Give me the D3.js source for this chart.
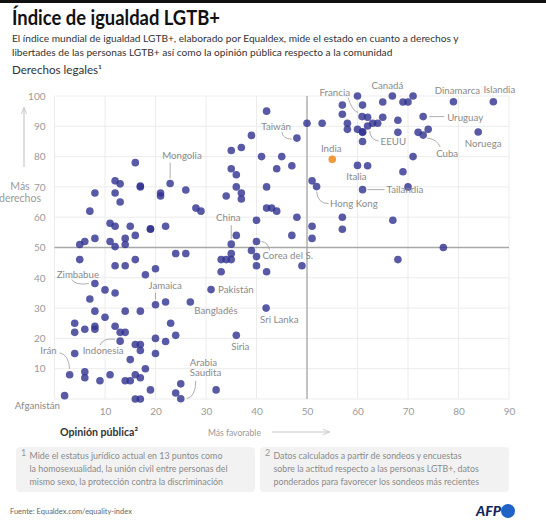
<!DOCTYPE html>
<html><head><meta charset="utf-8">
<script src="https://cdn.jsdelivr.net/npm/d3@7"></script>
<style>body{margin:0;background:#fff} svg{display:block;font-family:Lato,"Noto Sans",sans-serif}</style>
</head><body><svg id="c" width="546" height="522"></svg>
<script>
// ---- data ----
const xTicks = [10,20,30,40,50,60,70,80,90];
const yTicks = [10,20,30,40,50,60,70,80,90,100];
// unlabeled countries: public opinion (x) and legal rights (y)
const opinion = [5,6,7,8,8,11,11,12,12,12,12,13,13,14,14,15,16,16,17,17,19,19,21,21,22,26,28,29,
  5,12,14,16,18,20,24,26,10,12,7,22,8,10,14,17,4,4,6,8,8,12,13,14,16,17,17,20,22,23,24,4,15,20,18,6,6,9,11,14,15,16,17,19,16,17,24,25,32,
  39,40,35,33,34,35,40,49,33,42,
  42,50,53,39,35,37,41,45,35,36,44,47,36,37,37,34,42,51,42,43,44,40,48,57,51,57,36,47,51,77,68,
  60,71,57,61,65,69,70,57,62,65,68,58,63,64,58,60,61,61,68,70,72,74,61,71,62,69,67];
const legal = [51,52,62,68,53,58,52,72,68,57,50.3,71,65,53,51,57,78,54,70,70.3,56,56.2,68,67,57,69,63,62,
  46,44,44,46,41,43,48,48,36,35,33,32,29,27,29,29,25,22,23,24,23,24,22,22,18,18,16,20,19,25,21,15,13,15,10,9,7,6,8,6,6,8,7,3,0,0,2,5,3,
  49,47,48,46,46,46,44,44,42,42,
  95,91,91,87,82,83,80,80,76,74,76,77,70,68,66,67,70,72,63,63,62,59,60,60,57,56,54,54,53,50,46,
  100,100,97,97,98,98,98,94,93,93,92,91,91,91,89,89,88,88.2,88,70,88,89,85,80,77,75,59];
// labeled countries
const countries = ["Mongolia","Taiwán","Francia","Canadá","Dinamarca","Islandia","Uruguay","EEUU","Cuba","Noruega","India","Italia","Tailandia","Hong Kong","China","Corea del S.","Pakistán","Bangladés","Sri Lanka","Siria","Arabia Saudita","Jamaica","Zimbabue","Indonesia","Irán","Afganistán"];
const countryOpinion = [22.9,48,60.9,66.9,79,86.9,73,62,73,83.9,55,60,61,51.9,35,40,31,26.9,41.9,36,25,20,8,13,3,2];
const countryLegal = [71.1,86.1,93.2,100,98.1,98.1,93.2,90.1,87.1,88.1,79.1,77.1,69.1,70.1,51.1,52,36.1,32,30,21,0.1,31.1,38.1,19.1,8,1.1];
const highlighted = "India";

// ---- layout (label placement relative to point, px) ----
const labelLayout = {
 "Mongolia":{a:"start",dx:-8,dy:-25,l:"M0,-21L0,-5"},
 "Taiwán":{a:"end",dx:-6,dy:-8,l:"M-15,-6Q-14,1 -5,1"},
 "Francia":{a:"end",dx:-12,dy:-21,l:"M-14,-19Q-10,-6 -4,-4"},
 "Canadá":{a:"middle",dx:-5,dy:-7},
 "Dinamarca":{a:"middle",dx:4,dy:-8},
 "Islandia":{a:"middle",dx:6,dy:-9},
 "Uruguay":{a:"start",dx:24,dy:4,l:"M6,0L21,0"},
 "EEUU":{a:"start",dx:13,dy:19.5,l:"M2,5Q3,14 11,15"},
 "Cuba":{a:"start",dx:13,dy:21.5,l:"M4,3Q14,4 17,12"},
 "Noruega":{a:"middle",dx:5,dy:15},
 "India":{a:"middle",dx:-1,dy:-7},
 "Italia":{a:"middle",dx:-1,dy:14.5},
 "Tailandia":{a:"start",dx:24,dy:3.5,l:"M5,0L22,0"},
 "Hong Kong":{a:"start",dx:13.5,dy:20.5,l:"M0,5Q1,17 12,17"},
 "China":{a:"middle",dx:-3,dy:-23,l:"M0,-19L0,-5"},
 "Corea del S.":{a:"start",dx:6,dy:17.5,l:"M5,0Q12,1 13,9"},
 "Pakistán":{a:"start",dx:7,dy:3},
 "Bangladés":{a:"start",dx:4,dy:12},
 "Sri Lanka":{a:"start",dx:-6,dy:15},
 "Siria":{a:"middle",dx:4,dy:15},
 "Arabia Saudita":{a:"start",dx:9,dy:-33,lines:["Arabia","Saudita"],l:"M15,-18Q15,-2 6,0"},
 "Jamaica":{a:"start",dx:-7,dy:-15.5,l:"M0,-12L0,-5"},
 "Zimbabue":{a:"middle",dx:-17,dy:-6,l:"M-23,-4Q-20,2 -6,0"},
 "Indonesia":{a:"middle",dx:-17,dy:13,l:"M-20,4Q-18,-3 -5,-2"},
 "Irán":{a:"end",dx:-13,dy:-20.5,l:"M-10,-22Q-1,-20 0,-6"},
 "Afganistán":{a:"end",dx:-4.7,dy:13.5}
};

const svg = d3.select("#c");
const x = d3.scaleLinear().domain([0,90]).range([54.5,509]);
const y = d3.scaleLinear().domain([0,100]).range([399,96]);

function fitSize(sel, w){
  const fs = parseFloat(sel.attr("font-size"));
  const len = sel.node().getComputedTextLength();
  return fs * w / len;
}

// top bar
svg.append("rect").attr("x",0).attr("y",0).attr("width",546).attr("height",3).attr("fill","#111");

// title + subtitle
svg.append("text").attr("x",12).attr("y",25).attr("font-size",21.5).attr("font-weight",700).attr("fill","#111")
  .attr("textLength",208).attr("lengthAdjust","spacingAndGlyphs").text("Índice de igualdad LGTB+");
const sub1 = svg.append("text").attr("x",12).attr("y",42).attr("font-size",12).attr("fill","#333").text("El índice mundial de igualdad LGTB+, elaborado por Equaldex, mide el estado en cuanto a derechos y");
const sfs = fitSize(sub1,447);
sub1.attr("font-size",sfs);
svg.append("text").attr("x",12).attr("y",56).attr("font-size",sfs).attr("fill","#333").text("libertades de las personas LGTB+ así como la opinión pública respecto a la comunidad");
const dl = svg.append("text").attr("x",12).attr("y",74).attr("font-size",12).attr("fill","#333").text("Derechos legales¹");
dl.attr("font-size", fitSize(dl,90));

// grid
const g = svg.append("g");
g.selectAll(".vg").data([0].concat(xTicks)).join("line")
  .attr("x1",d=>x(d)).attr("x2",d=>x(d)).attr("y1",y(100)).attr("y2",y(0))
  .attr("stroke","#ececec").attr("stroke-width",1);
g.selectAll(".hg").data([0].concat(yTicks)).join("line").attr("class","hg")
  .attr("x1",x(0)).attr("x2",x(90)).attr("y1",d=>y(d)).attr("y2",d=>y(d))
  .attr("stroke","#ececec").attr("stroke-width",1);
// reference lines at 50
g.append("line").attr("x1",x(0)).attr("x2",x(90)).attr("y1",y(50)).attr("y2",y(50)).attr("stroke","#a8a8a8").attr("stroke-width",1.3);
g.append("line").attr("x1",x(50)).attr("x2",x(50)).attr("y1",y(100)).attr("y2",y(0)).attr("stroke","#a8a8a8").attr("stroke-width",1.3);

// axes
const xa = svg.append("g").attr("transform",`translate(0,${y(0)+4})`)
  .call(d3.axisBottom(x).tickValues(xTicks).tickSize(0).tickPadding(5));
const ya = svg.append("g").attr("transform",`translate(${x(0)-9},0)`)
  .call(d3.axisLeft(y).tickValues(yTicks).tickSize(0).tickPadding(0));
[xa,ya].forEach(a=>{
  a.select(".domain").remove();
  a.selectAll("text").attr("fill","#9a9a9a").attr("font-size",10).attr("font-family","Lato,sans-serif");
});

// axis annotations
const defs = svg.append("defs");
defs.append("marker").attr("id","ah").attr("viewBox","0 0 10 10").attr("refX",9).attr("refY",5)
  .attr("markerWidth",6).attr("markerHeight",6).attr("orient","auto")
  .append("path").attr("d","M0,1L10,5L0,9").attr("fill","none").attr("stroke","#c4c4c4").attr("stroke-width",1.2);
svg.append("line").attr("x1",24).attr("y1",167).attr("x2",24).attr("y2",108).attr("stroke","#c8c8c8").attr("stroke-width",1.2).attr("marker-end","url(#ah)");
svg.append("text").attr("x",20).attr("y",190).attr("text-anchor","middle").attr("font-size",10.5).attr("fill","#999").text("Más");
svg.append("text").attr("x",20).attr("y",202).attr("text-anchor","middle").attr("font-size",10.5).attr("fill","#999").text("derechos");

const op = svg.append("text").attr("x",60).attr("y",436).attr("font-size",12).attr("font-weight",700).attr("fill","#333").text("Opinión pública²");
op.attr("font-size", fitSize(op,78));
const mf = svg.append("text").attr("x",208).attr("y",436).attr("font-size",10.5).attr("fill","#999").text("Más favorable");
mf.attr("font-size", fitSize(mf,53));
svg.append("line").attr("x1",272).attr("y1",432).attr("x2",329).attr("y2",432).attr("stroke","#c8c8c8").attr("stroke-width",1.2).attr("marker-end","url(#ah)");

// points
const R = 3.8;
const pts = opinion.map((o,i)=>({o, l:legal[i]}));
svg.append("g").selectAll("circle").data(pts).join("circle")
  .attr("cx",d=>x(d.o)).attr("cy",d=>y(d.l)).attr("r",R)
  .attr("fill","#30318f").attr("fill-opacity",0.8);
const cpts = countries.map((c,i)=>({c, o:countryOpinion[i], l:countryLegal[i]}));
svg.append("g").selectAll("circle").data(cpts).join("circle")
  .attr("cx",d=>x(d.o)).attr("cy",d=>y(d.l)).attr("r",R)
  .attr("fill",d=>d.c===highlighted?"#ec9a3c":"#30318f").attr("fill-opacity",d=>d.c===highlighted?1:0.8);

// labels
const lg = svg.append("g");
cpts.forEach(d=>{
  const L = labelLayout[d.c]; const px=x(d.o), py=y(d.l);
  if(L.l) lg.append("path").attr("d",L.l).attr("transform",`translate(${px},${py})`)
    .attr("fill","none").attr("stroke","#9a9a9a").attr("stroke-width",0.8);
  const lines = L.lines || [d.c];
  lines.forEach((t,k)=>{
    lg.append("text").attr("x",px+L.dx).attr("y",py+L.dy+k*10.5).attr("text-anchor",L.a)
      .attr("font-size",9.7).attr("fill","#8a8a8a").text(t);
  });
});

// footnotes
const notes = [
  {n:"1", x:16, w:239, lines:["Mide el estatus jurídico actual en 13 puntos como","la homosexualidad, la unión civil entre personas del","mismo sexo, la protección contra la discriminación"]},
  {n:"2", x:260, w:249, lines:["Datos calculados a partir de sondeos y encuestas","sobre la actitud respecto a las personas LGTB+, datos","ponderados para favorecer los sondeos más recientes"]}
];
const fitW = [198.4, 205.7];
notes.forEach((nt,i)=>{
  svg.append("rect").attr("x",nt.x).attr("y",447).attr("width",nt.w).attr("height",45).attr("rx",4).attr("fill","#f2f2f2");
  svg.append("text").attr("x",nt.x+5).attr("y",456).attr("font-size",9).attr("fill","#999").text(nt.n);
  const ref = svg.append("text").attr("font-size",10.5).text(nt.lines[i===0?1:2]);
  const fs = fitSize(ref, fitW[i]); ref.remove();
  nt.lines.forEach((t,k)=>{
    svg.append("text").attr("x",nt.x+13.5).attr("y",459+k*13).attr("font-size",fs).attr("fill","#8a8a8a").text(t);
  });
});

// source + logo
const src = svg.append("text").attr("x",10).attr("y",514).attr("font-size",9.5).attr("fill","#666").text("Fuente: Equaldex.com/equality-index");
src.attr("font-size", fitSize(src,122));
svg.append("text").attr("x",476).attr("y",516).attr("font-size",14).attr("font-weight",900).attr("font-style","italic").attr("fill","#12255a").text("AFP");
svg.append("circle").attr("cx",508).attr("cy",511).attr("r",7).attr("fill","#1f63c6");
</script></body></html>
